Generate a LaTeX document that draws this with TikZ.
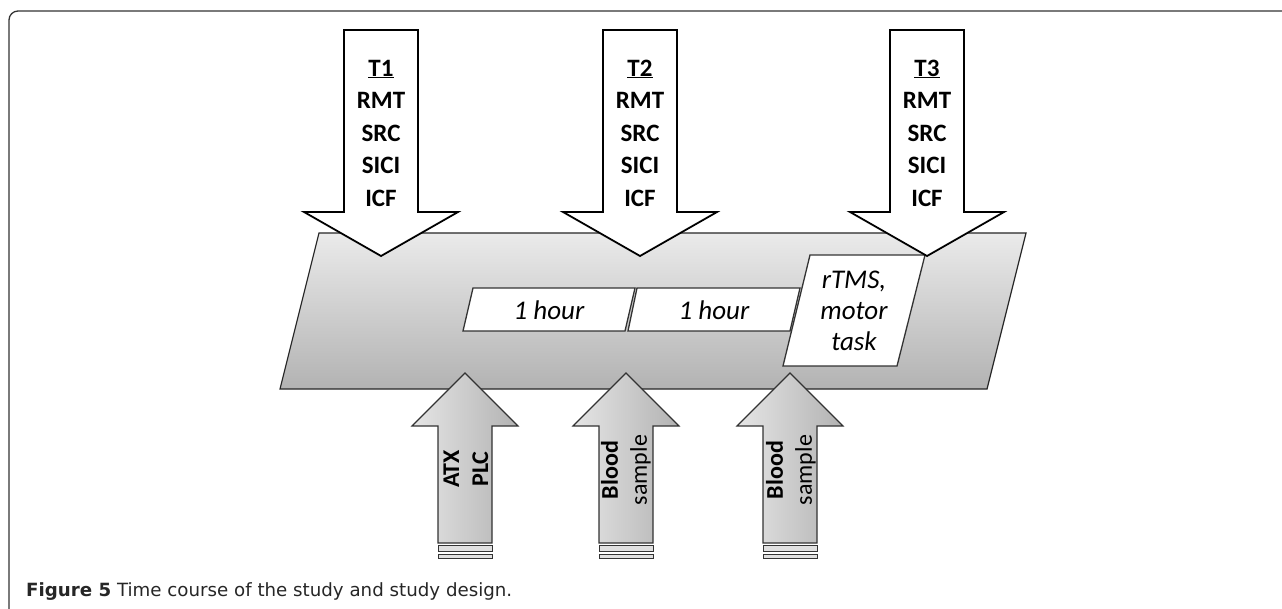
\documentclass[tikz,border=0pt]{standalone}
\usepackage{fontspec}
\setmainfont{Carlito}
\newfontfamily\capfont{DejaVu Sans}
\begin{document}
\begin{tikzpicture}[x=1pt,y=-1pt,
  downarr/.style={draw=black,line width=1.8pt,fill=white,line join=miter},
  uparr/.style={draw=black!80,line width=1.1pt,left color=black!10,right color=black!30},
  stripe/.style={draw=black!80,line width=1pt,fill=black!12},
  band/.style={draw=black!85,line width=1.2pt,top color=black!8,bottom color=black!30},
  hourbox/.style={draw=black!80,line width=1.3pt,fill=white},
  dtext/.style={font=\bfseries\fontsize{25}{32.5}\selectfont,align=center,inner sep=0pt},
  utext/.style={font=\fontsize{24}{29}\selectfont,align=center,rotate=90,inner sep=0pt},
  htext/.style={font=\itshape\fontsize{27}{31}\selectfont,align=center,inner sep=0pt},
  frame/.style={draw=black!80,line width=1.3pt,rounded corners=9pt}]
\useasboundingbox (0,0) rectangle (1282,609);
% frame
\draw[frame] (9,620) -- (9,11) -- (1295,11);
% band
\path[band] (319,233) -- (1026,233) -- (987,389) -- (280,389) -- cycle;
% inner boxes
\path[hourbox] (473,288) -- (635,288) -- (625,331) -- (463,331) -- cycle;
\path[hourbox] (637,288) -- (800,288) -- (790,331) -- (628,331) -- cycle;
\path[hourbox] (810,255) -- (925,255) -- (897,366) -- (783,366) -- cycle;
\node[htext] (h1) at (549,310) {1 hour};
\node[htext] (h2) at (714,310) {1 hour};
\node[htext] (h3) at (854,311) {rTMS,\\motor\\task};
% down arrows
\foreach \c/\n in {381/1,640/2,927/3}{
  \path[downarr] (\c-37,30) -- (\c+37,30) -- (\c+37,212) -- (\c+77,212) -- (\c,256) -- (\c-77,212) -- (\c-37,212) -- cycle;
  \node[dtext] (t\n) at (\c,133) {\underline{T\n}\\RMT\\SRC\\SICI\\ICF};
}
% up arrows
\foreach \c/\n in {465/1,626/2,790/3}{
  \path[uparr] (\c,373) -- (\c+53,426) -- (\c+27,426) -- (\c+27,543) -- (\c-27,543) -- (\c-27,426) -- (\c-53,426) -- cycle;
  \path[stripe] (\c-27,545) rectangle (\c+27,551);
  \path[stripe] (\c-27,554) rectangle (\c+27,558);
}
\node[utext] (u1) at (466,469) {\bfseries ATX\\\bfseries PLC};
\node[utext] (u2) at (626,470) {\bfseries Blood\\sample};
\node[utext] (u3) at (791,470) {\bfseries Blood\\sample};
% caption
\node[anchor=base west,inner sep=0pt,font=\capfont\fontsize{16.5}{20}\selectfont,text=black!85] (cap) at (26,596)
  {\resizebox{486pt}{!}{\textbf{Figure 5} Time course of the study and study design.}};
\end{tikzpicture}
\end{document}
